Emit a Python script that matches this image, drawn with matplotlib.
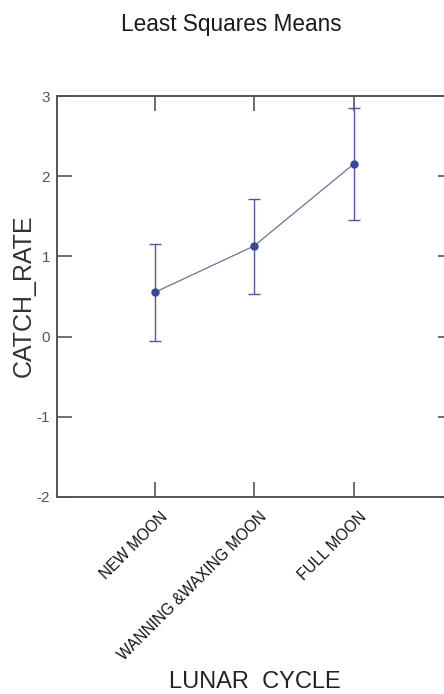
import matplotlib
matplotlib.use("Agg")
import matplotlib.pyplot as plt
import matplotlib.transforms as mtransforms

# ------------------------------
# Data
# ------------------------------
categories = ["NEW MOON", "WANNING &WAXING MOON", "FULL MOON"]
ls_means = [0.55, 1.13, 2.15]
err_low = [0.61, 0.60, 0.70]
err_high = [0.60, 0.58, 0.70]
y_ticks = [-2, -1, 0, 1, 2, 3]

plt.rcParams["font.family"] = ["Liberation Sans", "DejaVu Sans"]

fig = plt.figure(figsize=(4.44, 6.94), dpi=100)
W, H = 444, 694
# axes spans beyond the right edge of the figure, like the cropped original
left, right, top, bottom = 57, 453, 96, 497
ax = fig.add_axes([left / W, 1 - bottom / H, (right - left) / W, (bottom - top) / H])

x = [1, 2, 3]
ax.errorbar(x, ls_means, yerr=[err_low, err_high], fmt="none",
            ecolor="#4d5b9c", elinewidth=1.0, capsize=4, capthick=1.0)
ax.plot(x, ls_means, color="#6a719c", linewidth=0.9)
ax.plot(x, ls_means, "o", color="#34479a", markersize=5)

ax.set_xlim(0.02, 4.0)
ax.set_ylim(-2, 3)
ax.set_yticks(y_ticks)
ax.set_xticks(x)
ax.set_xticklabels(categories, rotation=45, ha="right", va="top",
                   rotation_mode="anchor", fontsize=11.2, color="#111111",
                   family=["Liberation Sans Narrow", "Liberation Sans"])
ax.set_yticklabels([str(v) for v in y_ticks], fontsize=11, color="#555555")

ax.tick_params(direction="in", length=11, width=1.2, color="#555555",
               top=True, right=True)
ax.tick_params(axis="y", pad=5)
ax.tick_params(axis="x", pad=2)
# nudge the slanted labels so their ends sit right of the ticks
offset = mtransforms.ScaledTranslation(5 / 100, -9 / 100, fig.dpi_scale_trans)
for lab in ax.get_xticklabels():
    lab.set_transform(lab.get_transform() + offset)
for s in ax.spines.values():
    s.set_color("#555555")
    s.set_linewidth(1.4)

fig.text(231 / W, 1 - 24 / H, "Least Squares Means", ha="center", va="center",
         fontsize=16.3, color="#1a1a1a")
fig.text(24 / W, 1 - 296 / H, "CATCH_RATE", ha="center", va="center",
         rotation=90, fontsize=18, color="#333333")
fig.text(255 / W, 1 - 682 / H, "LUNAR  CYCLE", ha="center", va="center",
         fontsize=17, color="#222222")

fig.savefig("out.png", dpi=100)
